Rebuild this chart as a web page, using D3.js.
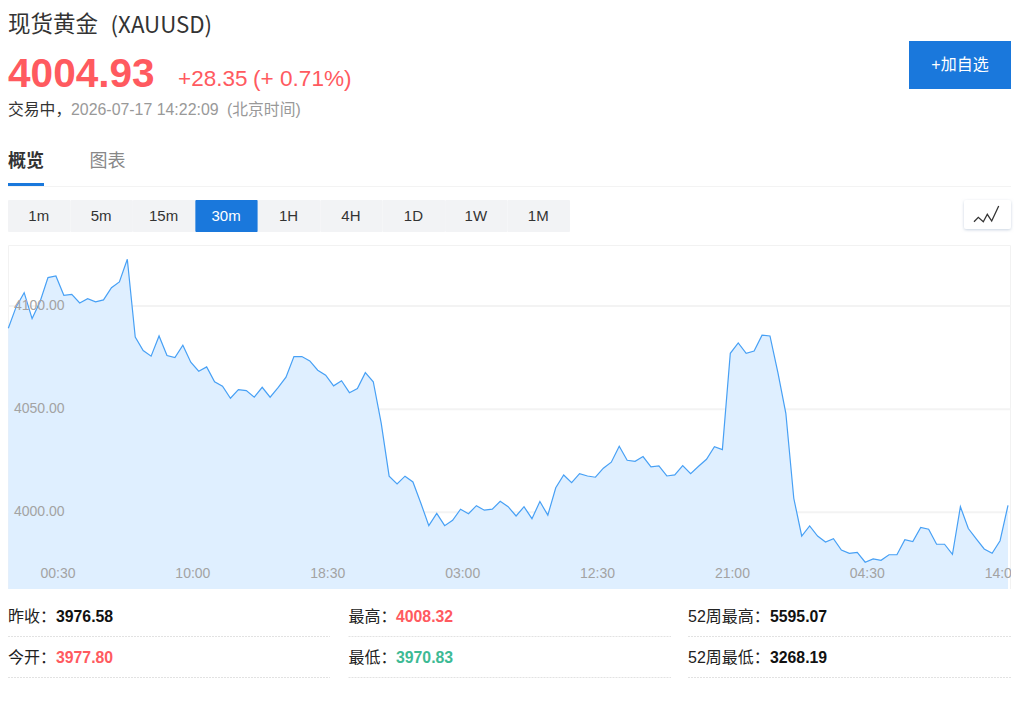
<!DOCTYPE html>
<html lang="zh">
<head>
<meta charset="utf-8">
<title>现货黄金 (XAUUSD)</title>
<script src="https://cdn.jsdelivr.net/npm/d3@7/dist/d3.min.js"></script>
<style>
html,body{margin:0;padding:0;background:#fff;overflow:hidden}
svg{display:block;font-family:"Liberation Sans","Noto Sans CJK SC",sans-serif}
</style>
</head>
<body>
<svg id="page" width="1024" height="713"></svg>
<script>
// 30-minute closing prices of spot gold
const prices = [
4088.8,4099.3,4106.1,4093.5,4101.7,4113.4,4114.2,4104.8,4105.3,4101.1,4103.2,4101.6,4102.6,4108.5,4111.3,4122.3,
4084.6,4078.0,4075.3,4085.1,4075.6,4074.6,4080.6,4072.4,4068.0,4070.1,4062.9,4060.7,4054.9,4059.1,4058.6,4055.4,
4060.2,4055.4,4060.0,4065.1,4075.1,4075.1,4073.0,4068.5,4066.1,4060.9,4063.4,4057.6,4059.6,4067.3,4062.9,4042.8,
4017.1,4013.3,4017.1,4014.3,4004.0,3993.1,3999.1,3993.1,3995.7,4001.1,3998.9,4002.8,4000.6,4001.1,4004.9,4002.3,
3997.8,4002.3,3996.5,4004.8,3998.2,4011.5,4017.7,4014.0,4018.3,4017.2,4016.6,4021.0,4023.9,4031.6,4024.8,4024.3,
4026.6,4021.6,4022.1,4017.2,4017.7,4022.2,4018.3,4021.9,4025.3,4031.4,4030.0,4076.7,4081.7,4076.7,4077.8,4085.5,
4085.1,4067.3,4047.6,4006.4,3988.1,3993.0,3988.1,3985.2,3986.8,3981.3,3979.7,3980.2,3975.4,3977.0,3976.3,3979.0,
3979.0,3986.3,3985.4,3992.3,3991.4,3984.1,3984.1,3979.2,4002.3,3991.7,3986.7,3981.8,3979.7,3985.8,4003.0
];
const timeLabels = ["00:30","10:00","18:30","03:00","12:30","21:00","04:30","14:00"];
const timeIndex = [6,23,40,57,74,91,108,125];
const priceTicks = [4000,4050,4100];
const periods = ["1m","5m","15m","30m","1H","4H","1D","1W","1M"];
const activePeriod = "30m";
const statLabels = ["昨收：","今开：","最高：","最低：","52周最高：","52周最低："];
const statValues = ["3976.58","3977.80","4008.32","3970.83","5595.07","3268.19"];
const statTones = ["flat","up","up","down","flat","flat"];

const BLUE = "#1a78dc", RED = "#ff5a5f", GREEN = "#3dba94";
const svg = d3.select("#page");

function label(parent, x, y, str, size, fill, opts = {}) {
  return parent.append("text")
    .attr("x", x).attr("y", y).text(str)
    .attr("font-size", size).attr("fill", fill)
    .attr("font-family", opts.family || null)
    .attr("font-weight", opts.weight || "normal")
    .attr("text-anchor", opts.anchor || "start");
}

// Quote header
label(svg, 8, 32, "现货黄金", 22.5, "#333");
label(svg, 110.5, 33, "(XAUUSD)", 22.3, "#333", {family: "'Noto Sans CJK SC'"});
label(svg, 8, 87, "4004.93", 40.6, RED, {weight: "bold"});
label(svg, 178, 86, "+28.35", 22.5, RED);
label(svg, 253, 86, "(+ 0.71%)", 22.6, RED);
label(svg, 8, 115, "交易中，", 15.8, "#333");
label(svg, 71, 115, "2026-07-17 14:22:09", 15.9, "#999");
label(svg, 227, 115, "(北京时间)", 15.8, "#999");

svg.append("rect").attr("x", 909).attr("y", 41).attr("width", 102).attr("height", 48).attr("fill", BLUE);
label(svg, 960, 70, "+加自选", 16, "#fff", {anchor: "middle"});

// Tabs
label(svg, 8, 167, "概览", 18, "#333", {weight: "bold"});
label(svg, 89.5, 167, "图表", 18, "#888");
svg.append("rect").attr("x", 8).attr("y", 186).attr("width", 1003).attr("height", 1).attr("fill", "#f3f3f3");
svg.append("rect").attr("x", 8).attr("y", 183).attr("width", 36).attr("height", 3).attr("fill", BLUE);

// Period selector
const band = d3.scaleBand().domain(periods).range([8, 570]);
const periodCells = svg.append("g").selectAll("g").data(periods).join("g")
  .attr("transform", d => `translate(${band(d)},200)`);
periodCells.append("rect")
  .attr("x", 0).attr("width", band.bandwidth()).attr("height", 32).attr("rx", 1)
  .attr("fill", d => d === activePeriod ? BLUE : "#f2f3f5");
periodCells.append("text")
  .attr("x", band.bandwidth() / 2 - 0.5).attr("y", 21)
  .attr("text-anchor", "middle").attr("font-size", 15)
  .attr("fill", d => d === activePeriod ? "#fff" : "#333")
  .text(d => d);

// Chart type toggle
const shadow = svg.append("defs").append("filter").attr("id", "soft")
  .attr("x", "-20%").attr("y", "-20%").attr("width", "140%").attr("height", "150%");
shadow.append("feDropShadow").attr("dx", 0).attr("dy", 1).attr("stdDeviation", 1.5)
  .attr("flood-color", "#9fb0c8").attr("flood-opacity", 0.55);
svg.append("rect").attr("x", 964).attr("y", 200).attr("width", 47).attr("height", 29).attr("rx", 2)
  .attr("fill", "#fff").attr("filter", "url(#soft)");
svg.append("path").attr("d", "M974 221.7L978.3 217.3L983.3 221.7L987.3 214.3L991.7 221L998.7 206")
  .attr("fill", "none").attr("stroke", "#333").attr("stroke-width", 1.3);

// Price chart
const box = {left: 8, right: 1011, top: 245, bottom: 589};
const x = d3.scaleLinear().domain([0, prices.length - 1]).range([8.3, 1008]);
const y = d3.scaleLinear().domain([3962.4, 4129.2]).range([box.bottom, box.top]);

svg.select("defs").append("clipPath").attr("id", "plot")
  .append("rect").attr("x", box.left).attr("y", box.top)
  .attr("width", box.right - box.left).attr("height", box.bottom - box.top);

const chart = svg.append("g");
chart.append("path")
  .attr("d", `M${box.left + .5} ${box.bottom}V${box.top + .5}H${box.right - .5}V${box.bottom}`)
  .attr("fill", "none").attr("stroke", "#f2f2f2");

const grid = chart.append("g").call(
  d3.axisRight(y).tickValues(priceTicks).tickSize(box.right - box.left).tickFormat("")
).attr("transform", `translate(${box.left},0.4)`);
grid.select(".domain").remove();
grid.selectAll("line").attr("stroke", "#f3f3f3").attr("stroke-width", 2);

const area = d3.area().x((d, i) => x(i)).y0(box.bottom).y1(d => y(d));
const line = d3.line().x((d, i) => x(i)).y(d => y(d));
chart.append("path").datum(prices).attr("d", area).attr("fill", "#dfefff");
chart.append("path").datum(prices).attr("d", line)
  .attr("fill", "none").attr("stroke", "#47a0f5").attr("stroke-width", 1.2);

const priceAxis = chart.append("g").attr("transform", "translate(14,0)").call(
  d3.axisRight(y).tickValues(priceTicks).tickSize(0).tickPadding(0).tickFormat(d3.format(".2f"))
);
priceAxis.select(".domain").remove();
priceAxis.selectAll("text").attr("font-size", 14).attr("fill", "#a3a3a3")
  .attr("font-family", "inherit");

const timeAxis = chart.append("g").attr("clip-path", "url(#plot)")
  .append("g").attr("transform", "translate(1.6,568)").call(
    d3.axisBottom(x).tickValues(timeIndex).tickSize(0).tickPadding(0)
      .tickFormat((d, i) => timeLabels[i])
  );
timeAxis.select(".domain").remove();
timeAxis.selectAll("text").attr("font-size", 14).attr("fill", "#a3a3a3")
  .attr("font-family", "inherit");

// Statistics table
const columns = [
  {left: 8, right: 330, value: 56},
  {left: 348.5, right: 671, value: 396},
  {left: 688, right: 1011, value: 770}
];
const tones = {flat: "#111", up: RED, down: GREEN};
const rowBase = [622, 663], rowRule = [636.5, 677.5];
statLabels.forEach((name, i) => {
  const col = columns[Math.floor(i / 2)], row = i % 2;
  label(svg, col.left, rowBase[row], name, 16, "#222");
  label(svg, col.value, rowBase[row] - 0.4, statValues[i], 15.8, tones[statTones[i]], {weight: "bold"});
  svg.append("line")
    .attr("x1", col.left).attr("x2", col.right)
    .attr("y1", rowRule[row]).attr("y2", rowRule[row])
    .attr("stroke", "#e2e2e2").attr("stroke-dasharray", "2 1");
});
</script>
</body>
</html>
